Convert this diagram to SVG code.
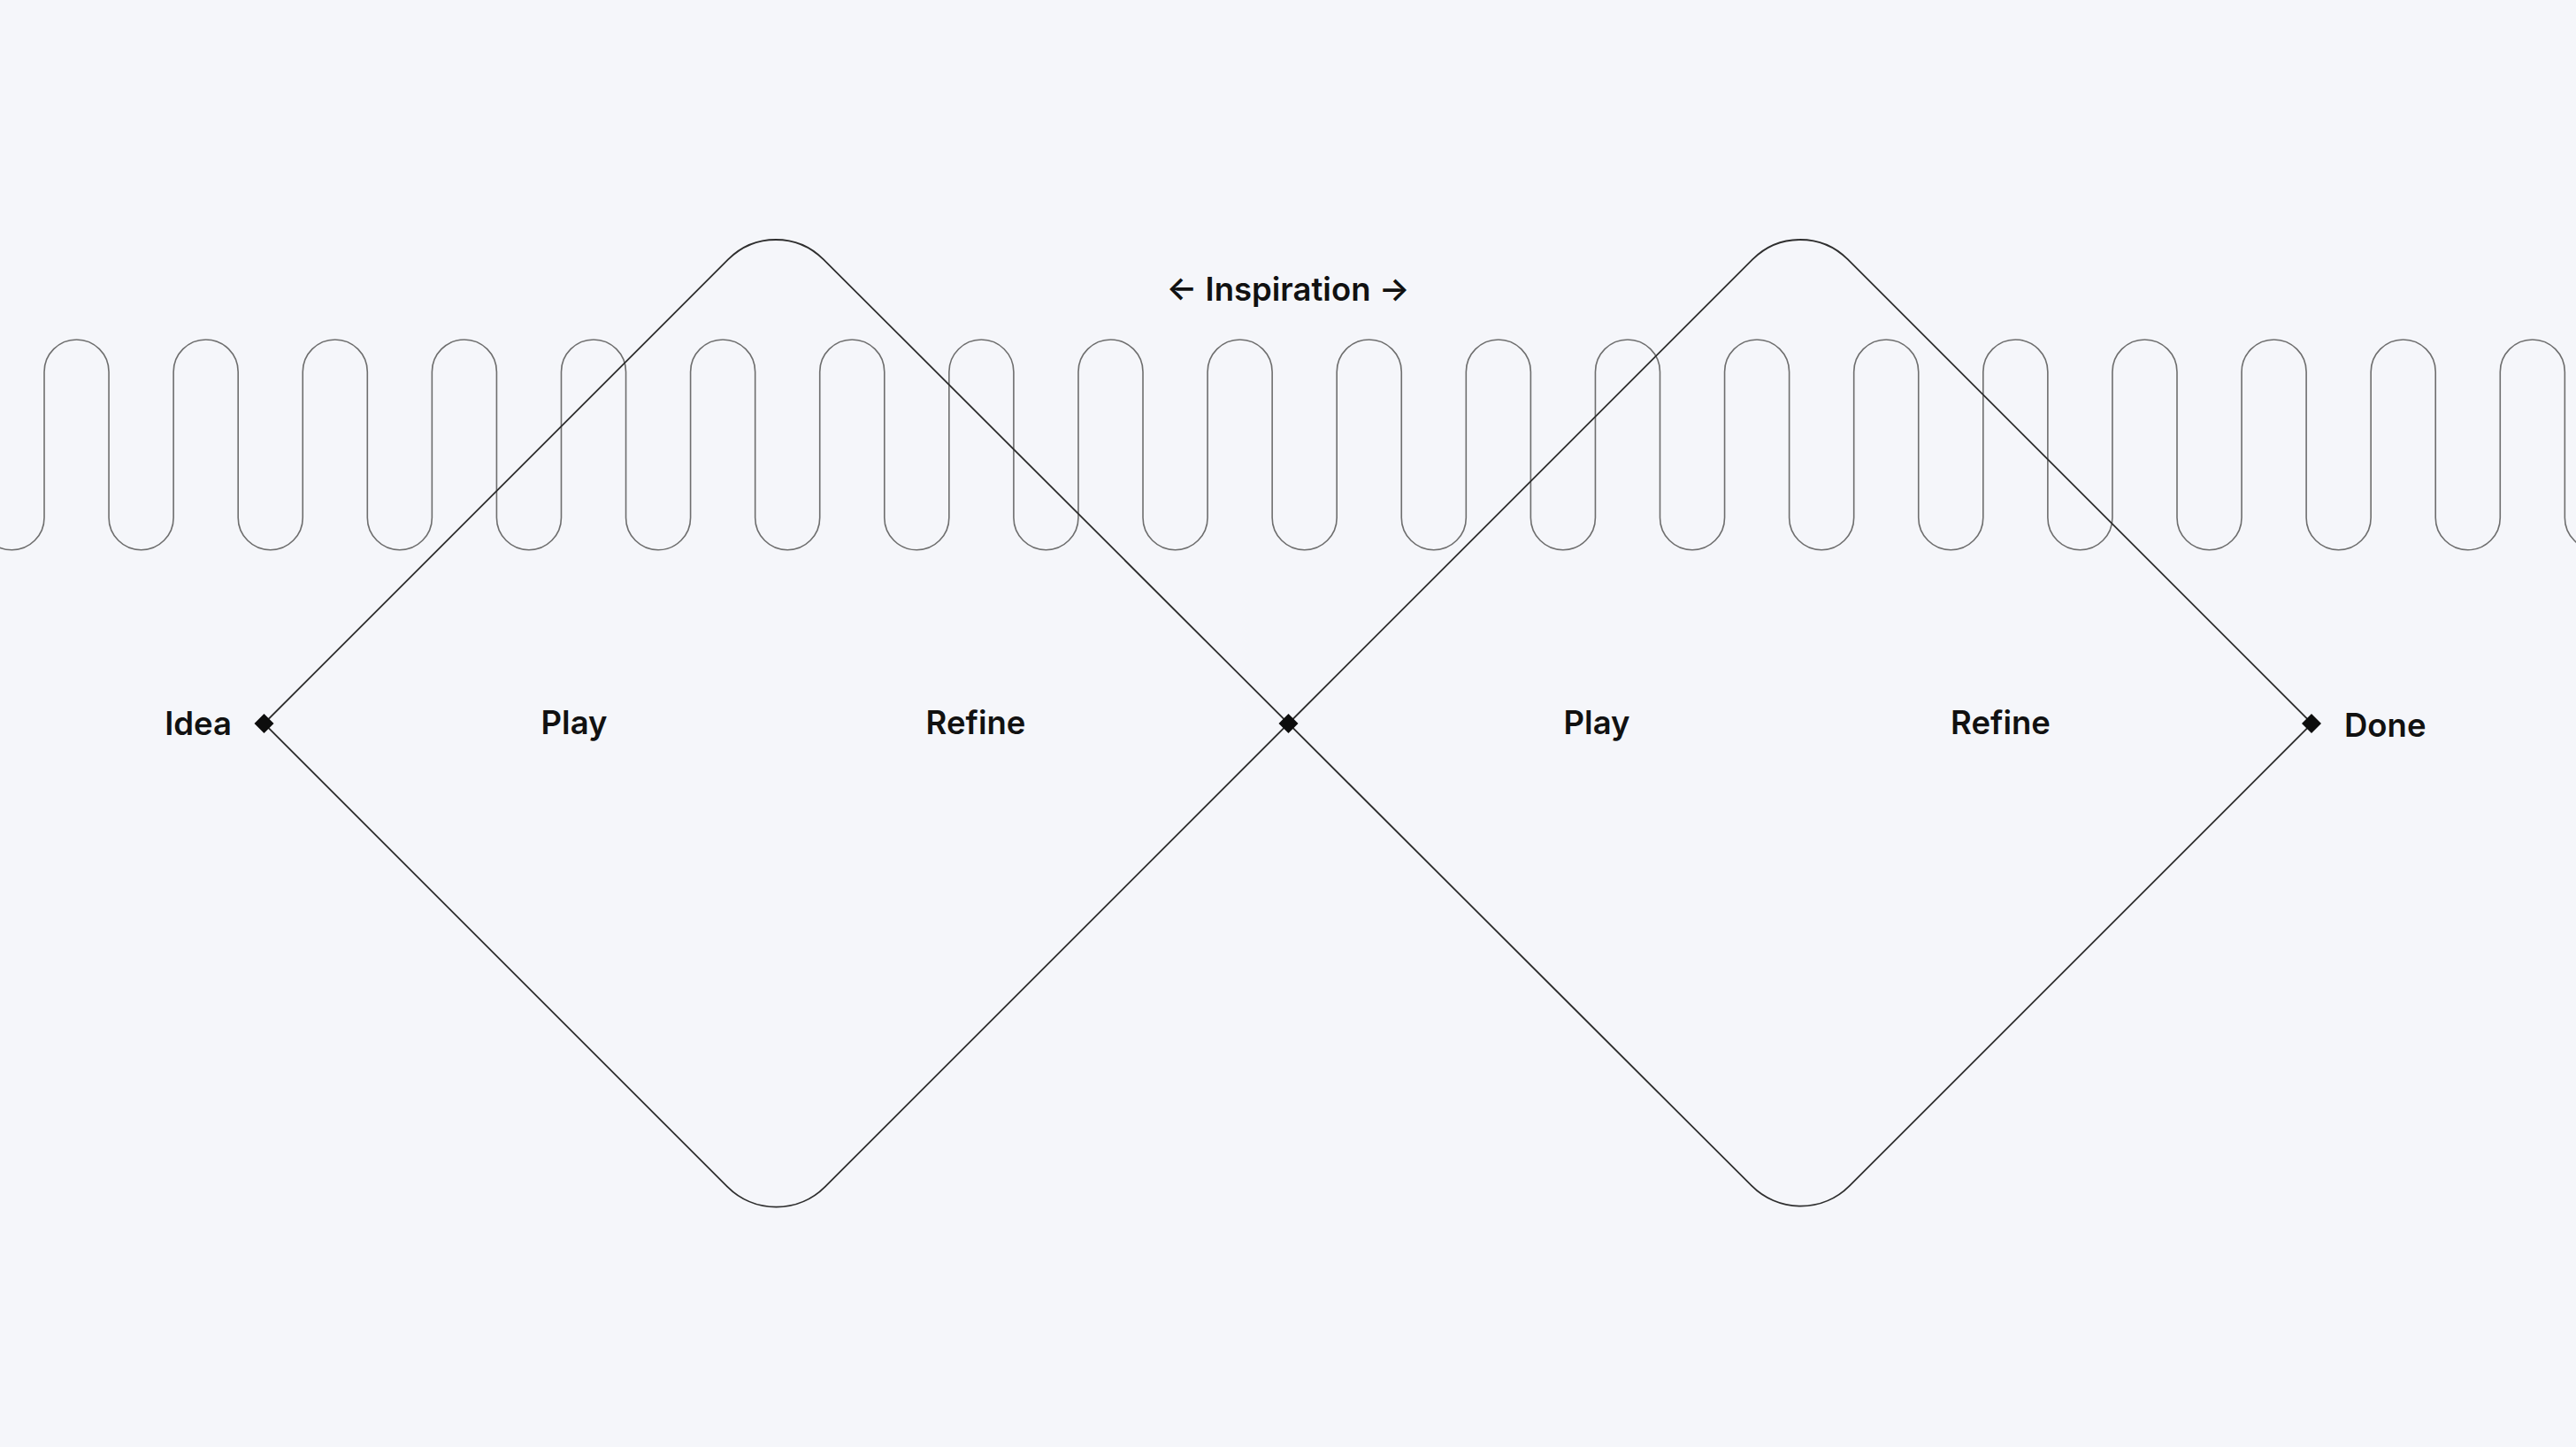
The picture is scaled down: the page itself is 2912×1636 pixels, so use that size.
<svg xmlns="http://www.w3.org/2000/svg" xmlns:xlink="http://www.w3.org/1999/xlink" width="2912" height="1636" viewBox="0 0 2912 1636">
  <style>
    .lbl { font-family: Inter, "Liberation Sans", sans-serif; font-weight: 600; font-size: 36.5px; fill: #111111; }
    .wave { fill: none; stroke: #6e6e6e; stroke-width: 1.6; }
    .dia { fill: none; stroke: #2e2e2e; stroke-width: 1.8; }
    .pt { fill: #0d0d0d; }
  </style>
  <defs>
    <path id="pt" d="M0 -11 L11 0 L0 11 L-11 0 Z"/>
  </defs>
  <rect x="0" y="0" width="2912" height="1636" fill="#f5f6fa"/>

  <g id="connectors">
    <path id="inspiration-wave" class="wave" d="M-23.06 420.5 V585.2
      a36.53 36.53 0 0 0 73.06 0 v-164.7 a36.53 36.53 0 0 1 73.06 0 v164.7
      a36.53 36.53 0 0 0 73.06 0 v-164.7 a36.53 36.53 0 0 1 73.06 0 v164.7
      a36.53 36.53 0 0 0 73.06 0 v-164.7 a36.53 36.53 0 0 1 73.06 0 v164.7
      a36.53 36.53 0 0 0 73.06 0 v-164.7 a36.53 36.53 0 0 1 73.06 0 v164.7
      a36.53 36.53 0 0 0 73.06 0 v-164.7 a36.53 36.53 0 0 1 73.06 0 v164.7
      a36.53 36.53 0 0 0 73.06 0 v-164.7 a36.53 36.53 0 0 1 73.06 0 v164.7
      a36.53 36.53 0 0 0 73.06 0 v-164.7 a36.53 36.53 0 0 1 73.06 0 v164.7
      a36.53 36.53 0 0 0 73.06 0 v-164.7 a36.53 36.53 0 0 1 73.06 0 v164.7
      a36.53 36.53 0 0 0 73.06 0 v-164.7 a36.53 36.53 0 0 1 73.06 0 v164.7
      a36.53 36.53 0 0 0 73.06 0 v-164.7 a36.53 36.53 0 0 1 73.06 0 v164.7
      a36.53 36.53 0 0 0 73.06 0 v-164.7 a36.53 36.53 0 0 1 73.06 0 v164.7
      a36.53 36.53 0 0 0 73.06 0 v-164.7 a36.53 36.53 0 0 1 73.06 0 v164.7
      a36.53 36.53 0 0 0 73.06 0 v-164.7 a36.53 36.53 0 0 1 73.06 0 v164.7
      a36.53 36.53 0 0 0 73.06 0 v-164.7 a36.53 36.53 0 0 1 73.06 0 v164.7
      a36.53 36.53 0 0 0 73.06 0 v-164.7 a36.53 36.53 0 0 1 73.06 0 v164.7
      a36.53 36.53 0 0 0 73.06 0 v-164.7 a36.53 36.53 0 0 1 73.06 0 v164.7
      a36.53 36.53 0 0 0 73.06 0 v-164.7 a36.53 36.53 0 0 1 73.06 0 v164.7
      a36.53 36.53 0 0 0 73.06 0 v-164.7 a36.53 36.53 0 0 1 73.06 0 v164.7
      a36.53 36.53 0 0 0 73.06 0 v-164.7 a36.53 36.53 0 0 1 73.06 0 v164.7
      a36.53 36.53 0 0 0 73.06 0 v-164.7 a36.53 36.53 0 0 1 73.06 0 v164.7
      a36.53 36.53 0 0 0 73.06 0 v-164.7"/>
    <path id="diamond-1" class="dia" d="M298.5 818 L823.3 293.2 A76 76 0 0 1 930.7 293.2 L1456.5 818 L932.6 1341.9 A78 78 0 0 1 822.4 1341.9 Z"/>
    <path id="diamond-2" class="dia" d="M1456.5 818 L1981.3 293.2 A76 76 0 0 1 2088.7 293.2 L2613.5 818 L2090.6 1340.9 A78 78 0 0 1 1980.4 1340.9 Z"/>
  </g>

  <g id="node-idea">
    <use xlink:href="#pt" href="#pt" class="pt" x="298.5" y="818"/>
    <text class="lbl" x="262" y="831" text-anchor="end">Idea</text>
  </g>
  <g id="node-middle">
    <use xlink:href="#pt" href="#pt" class="pt" x="1456.5" y="818"/>
  </g>
  <g id="node-done">
    <use xlink:href="#pt" href="#pt" class="pt" x="2613" y="818"/>
    <text class="lbl" x="2650" y="833">Done</text>
  </g>
  <g id="label-play-1"><text class="lbl" x="649" y="829.5" text-anchor="middle">Play</text></g>
  <g id="label-refine-1"><text class="lbl" x="1103" y="829.5" text-anchor="middle">Refine</text></g>
  <g id="label-play-2"><text class="lbl" x="1805" y="829.5" text-anchor="middle">Play</text></g>
  <g id="label-refine-2"><text class="lbl" x="2261.5" y="829.5" text-anchor="middle">Refine</text></g>
  <g id="label-inspiration"><text class="lbl" x="1456" y="339.5" text-anchor="middle">← Inspiration →</text></g>
</svg>
